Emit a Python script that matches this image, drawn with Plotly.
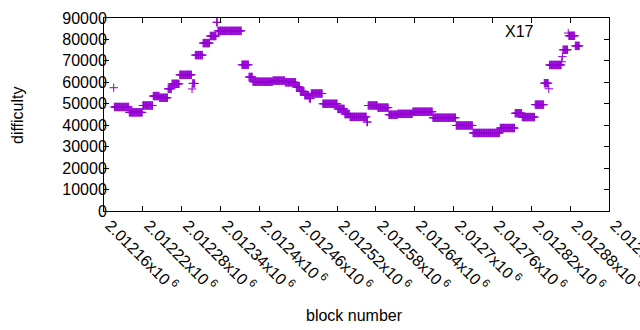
import numpy as np
import plotly.graph_objects as go

# run-length data: block range [start, end) with constant difficulty
run_start = [2012175, 2012176, 2012199, 2012220, 2012236, 2012246, 2012259, 2012265, 2012277,
             2012296, 2012297, 2012301, 2012313, 2012324, 2012334, 2012336, 2012373, 2012384,
             2012390, 2012421, 2012440, 2012457, 2012463, 2012470, 2012477, 2012480, 2012498,
             2012521, 2012532, 2012540, 2012566, 2012568, 2012583, 2012600, 2012614, 2012637,
             2012668, 2012704, 2012730, 2012772, 2012795, 2012806, 2012826, 2012840, 2012847,
             2012848, 2012867, 2012868, 2012869, 2012877, 2012878, 2012888]
run_end = [2012176, 2012199, 2012220, 2012236, 2012246, 2012259, 2012265, 2012277, 2012296,
           2012297, 2012301, 2012313, 2012324, 2012334, 2012336, 2012373, 2012384, 2012390,
           2012421, 2012440, 2012457, 2012463, 2012470, 2012477, 2012480, 2012498, 2012521,
           2012532, 2012540, 2012566, 2012568, 2012583, 2012600, 2012614, 2012637, 2012668,
           2012704, 2012730, 2012772, 2012795, 2012806, 2012826, 2012840, 2012847, 2012848,
           2012867, 2012868, 2012869, 2012877, 2012878, 2012888, 2012895]
run_value = [57500, 48500, 46000, 49200, 53600, 52800, 57000, 59300, 63500,
             56900, 59500, 72700, 78300, 81600, 88000, 84000, 68200, 62500,
             60300, 60800, 60000, 57800, 55800, 54000, 52500, 54800, 50000,
             47600, 45200, 43900, 41500, 49200, 48200, 44900, 45300, 46300,
             43500, 39900, 36400, 38700, 45600, 43800, 49600, 59600, 57000,
             68100, 69600, 72000, 75200, 83000, 81700, 77000]

x_tick_vals = [2012160 + 60 * i for i in range(14)]
x_tick_text = ["2.01216", "2.01222", "2.01228", "2.01234", "2.0124", "2.01246", "2.01252",
               "2.01258", "2.01264", "2.0127", "2.01276", "2.01282", "2.01288", "2.01294"]
y_tick_vals = [0, 10000, 20000, 30000, 40000, 50000, 60000, 70000, 80000, 90000]
y_tick_text = [str(v) for v in y_tick_vals]

blocks = []
diffs = []
for s, e, v in zip(run_start, run_end, run_value):
    for b in range(s, e):
        blocks.append(b)
        diffs.append(v)

FONT = "Liberation Sans"
W, H = 640, 330
L, R, T, B = 104, 31, 18, 119
pw, ph = W - L - R, H - T - B


def px_to_paper(px, py):
    return (px - L) / pw, (H - B - py) / ph


fig = go.Figure()
fig.add_trace(go.Scatter(
    x=blocks, y=diffs, mode="markers",
    marker=dict(symbol="cross-thin", size=6, color="#9400D3",
                line=dict(color="#9400D3", width=1)),
    showlegend=False,
))

axis_common = dict(showline=True, linecolor="black", linewidth=1, mirror="ticks",
                   ticks="inside", ticklen=5, tickcolor="black", showgrid=False,
                   zeroline=False, ticklabeloverflow="allow", automargin=False,
                   tickfont=dict(family=FONT, size=16, color="black"))

annots = []
for text, px, py, ang in [("difficulty", 17, 115, -90), ("block number", 354, 315, 0),
                          ("X17", 519, 31, 0)]:
    ax, ay = px_to_paper(px, py)
    annots.append(dict(text=text, x=ax, y=ay, xref="paper", yref="paper", showarrow=False,
                       xanchor="center", yanchor="middle", textangle=ang,
                       font=dict(family=FONT, size=16, color="black")))

fig.update_layout(
    width=W, height=H, autosize=False,
    margin=dict(l=L, r=R, t=T, b=B, pad=0, autoexpand=False),
    paper_bgcolor="white", plot_bgcolor="white",
    xaxis=dict(range=[2012160, 2012940], tickvals=x_tick_vals,
               ticktext=[t + "x10<sup> 6</sup>" for t in x_tick_text],
               tickangle=45, ticklabelstandoff=-2, ticklabelshift=6, **axis_common),
    yaxis=dict(range=[0, 90000], tickvals=y_tick_vals, ticktext=y_tick_text,
               ticklabelstandoff=-7, **axis_common),
    annotations=annots,
)

post = ("document.body.style.margin='0';document.body.style.overflow='hidden';"
        "var gd=document.getElementById('{plot_id}');"
        "Plotly.relayout(gd,{width:640,height:330});")
fig.write_html("out.html", post_script=post,
               config={"responsive": False, "displayModeBar": False})
